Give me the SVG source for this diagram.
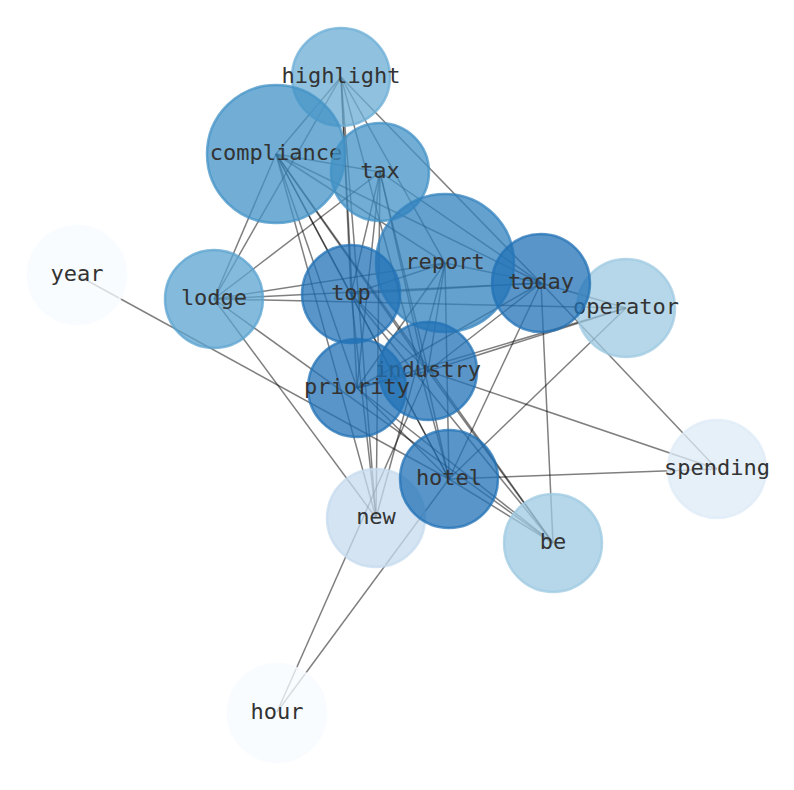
<svg xmlns="http://www.w3.org/2000/svg" width="794" height="790" viewBox="0 0 794 790">
<style>
.e{stroke:#000;stroke-opacity:0.5;stroke-width:1.5;fill:none}
.n circle{stroke-width:2.5;fill-opacity:0.75;stroke-opacity:0.75}
.n text{font-family:"DejaVu Sans Mono","Liberation Mono",monospace;font-size:22px;fill:#333;text-anchor:middle}
.c0{fill:#f7fbff;stroke:#f7fbff}
.c1{fill:#deebf7;stroke:#deebf7}
.c2{fill:#c6dbef;stroke:#c6dbef}
.c3{fill:#9ecae1;stroke:#9ecae1}
.c4{fill:#6baed6;stroke:#6baed6}
.c5{fill:#5ba3d0;stroke:#5ba3d0}
.c6{fill:#4292c6;stroke:#4292c6}
.c7{fill:#3182bd;stroke:#3182bd}
.c8{fill:#2171b5;stroke:#2171b5}
</style>
<rect width="794" height="790" fill="#fff"/>
<g id="edges">
<!-- highlight -->
<line class="e" x1="341" y1="77" x2="276" y2="154"/>
<line class="e" x1="341" y1="77" x2="214" y2="299"/>
<line class="e" x1="341" y1="77" x2="351" y2="294"/>
<line class="e" x1="341" y1="77" x2="357" y2="388"/>
<line class="e" x1="341" y1="77" x2="376" y2="518"/>
<line class="e" x1="341" y1="77" x2="445" y2="263"/>
<line class="e" x1="341" y1="77" x2="541" y2="283"/>
<line class="e" x1="341" y1="77" x2="449" y2="479"/>
<!-- compliance -->
<line class="e" x1="276" y1="154" x2="380" y2="172"/>
<line class="e" x1="276" y1="154" x2="214" y2="299"/>
<line class="e" x1="276" y1="154" x2="445" y2="263"/>
<line class="e" x1="276" y1="154" x2="541" y2="283"/>
<line class="e" x1="276" y1="154" x2="351" y2="294"/>
<line class="e" x1="276" y1="154" x2="357" y2="388"/>
<line class="e" x1="276" y1="154" x2="428" y2="371"/>
<line class="e" x1="276" y1="154" x2="449" y2="479"/>
<line class="e" x1="276" y1="154" x2="553" y2="543"/>
<line class="e" x1="276" y1="154" x2="376" y2="518"/>
<!-- tax -->
<line class="e" x1="380" y1="172" x2="214" y2="299"/>
<line class="e" x1="380" y1="172" x2="351" y2="294"/>
<line class="e" x1="380" y1="172" x2="357" y2="388"/>
<line class="e" x1="380" y1="172" x2="376" y2="518"/>
<line class="e" x1="380" y1="172" x2="541" y2="283"/>
<line class="e" x1="380" y1="172" x2="428" y2="371"/>
<line class="e" x1="380" y1="172" x2="449" y2="479"/>
<!-- report -->
<line class="e" x1="445" y1="263" x2="214" y2="299"/>
<line class="e" x1="445" y1="263" x2="351" y2="294"/>
<line class="e" x1="445" y1="263" x2="357" y2="388"/>
<line class="e" x1="445" y1="263" x2="428" y2="371"/>
<line class="e" x1="445" y1="263" x2="449" y2="479"/>
<line class="e" x1="445" y1="263" x2="376" y2="518"/>
<line class="e" x1="445" y1="263" x2="541" y2="283"/>
<!-- today -->
<line class="e" x1="541" y1="283" x2="214" y2="299"/>
<line class="e" x1="541" y1="283" x2="351" y2="294"/>
<line class="e" x1="541" y1="283" x2="626" y2="308"/>
<line class="e" x1="541" y1="283" x2="717" y2="469"/>
<line class="e" x1="541" y1="283" x2="553" y2="543"/>
<line class="e" x1="541" y1="283" x2="449" y2="479"/>
<line class="e" x1="541" y1="283" x2="428" y2="371"/>
<line class="e" x1="541" y1="283" x2="357" y2="388"/>
<!-- operator -->
<line class="e" x1="626" y1="308" x2="214" y2="299"/>
<line class="e" x1="626" y1="308" x2="428" y2="371"/>
<line class="e" x1="626" y1="308" x2="357" y2="388"/>
<line class="e" x1="626" y1="308" x2="449" y2="479"/>
<!-- lodge -->
<line class="e" x1="214" y1="299" x2="376" y2="518"/>
<line class="e" x1="214" y1="299" x2="553" y2="543"/>
<!-- top -->
<line class="e" x1="351" y1="294" x2="428" y2="371"/>
<line class="e" x1="351" y1="294" x2="449" y2="479"/>
<line class="e" x1="351" y1="294" x2="553" y2="543"/>
<line class="e" x1="351" y1="294" x2="376" y2="518"/>
<!-- priority -->
<line class="e" x1="357" y1="388" x2="428" y2="371"/>
<line class="e" x1="357" y1="388" x2="449" y2="479"/>
<line class="e" x1="357" y1="388" x2="553" y2="543"/>
<!-- industry -->
<line class="e" x1="428" y1="371" x2="717" y2="469"/>
<line class="e" x1="428" y1="371" x2="277" y2="712"/>
<line class="e" x1="428" y1="371" x2="553" y2="543"/>
<!-- hotel -->
<line class="e" x1="449" y1="479" x2="77" y2="275"/>
<line class="e" x1="449" y1="479" x2="717" y2="469"/>
<line class="e" x1="449" y1="479" x2="277" y2="712"/>
<line class="e" x1="449" y1="479" x2="553" y2="543"/>
</g>
<g id="node-year" class="n"><circle class="c0" cx="77" cy="275" r="49"/><text x="77" y="281">year</text></g>
<g id="node-hour" class="n"><circle class="c0" cx="277" cy="713" r="49"/><text x="277" y="719">hour</text></g>
<g id="node-spending" class="n"><circle class="c1" cx="717" cy="469" r="49"/><text x="717" y="475">spending</text></g>
<g id="node-new" class="n"><circle class="c2" cx="376" cy="518" r="49"/><text x="376" y="524">new</text></g>
<g id="node-be" class="n"><circle class="c3" cx="553" cy="543" r="49"/><text x="553" y="549">be</text></g>
<g id="node-operator" class="n"><circle class="c3" cx="626" cy="308" r="49"/><text x="626" y="314">operator</text></g>
<g id="node-highlight" class="n"><circle class="c4" cx="341" cy="77" r="49"/><text x="341" y="83">highlight</text></g>
<g id="node-lodge" class="n"><circle class="c5" cx="214" cy="299" r="49"/><text x="214" y="305">lodge</text></g>
<g id="node-compliance" class="n"><circle class="c6" cx="276" cy="154" r="69"/><text x="276" y="160">compliance</text></g>
<g id="node-tax" class="n"><circle class="c6" cx="380" cy="172" r="49"/><text x="380" y="178">tax</text></g>
<g id="node-report" class="n"><circle class="c7" cx="445" cy="263" r="69"/><text x="445" y="269">report</text></g>
<g id="node-top" class="n"><circle class="c8" cx="351" cy="294" r="49"/><text x="351" y="300">top</text></g>
<g id="node-today" class="n"><circle class="c8" cx="541" cy="283" r="49"/><text x="541" y="289">today</text></g>
<g id="node-industry" class="n"><circle class="c8" cx="428" cy="371" r="49"/><text x="428" y="377">industry</text></g>
<g id="node-priority" class="n"><circle class="c8" cx="357" cy="388" r="49"/><text x="357" y="394">priority</text></g>
<g id="node-hotel" class="n"><circle class="c8" cx="449" cy="479" r="49"/><text x="449" y="485">hotel</text></g>
</svg>
